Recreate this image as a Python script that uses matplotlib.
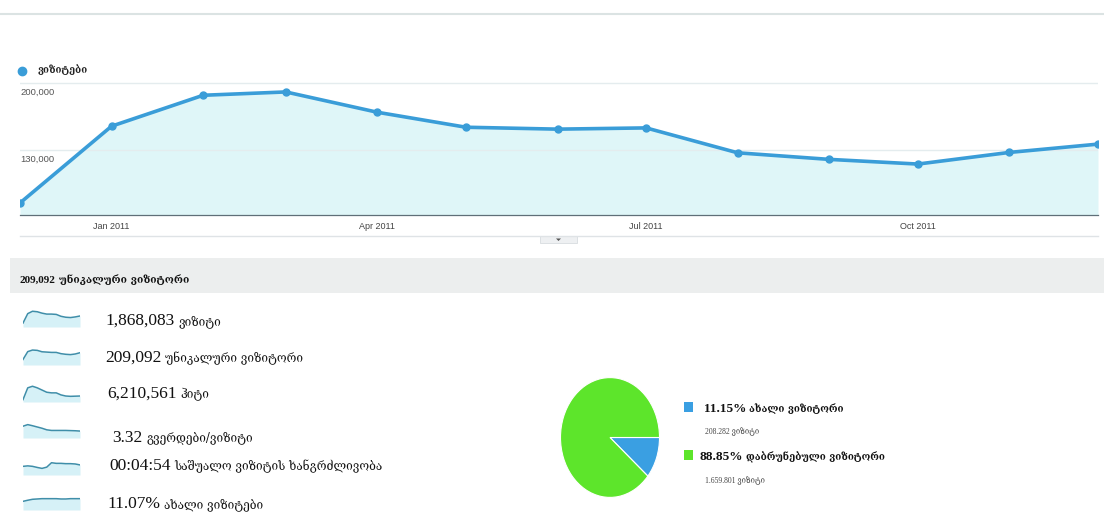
import numpy as np
import pandas as pd
import matplotlib
matplotlib.use("Agg")
import matplotlib.pyplot as plt
from matplotlib.patches import Rectangle, Polygon
from matplotlib.ticker import FixedLocator

W, H = 1104, 512

# monthly visits, Dec 2010 - Dec 2011
months = pd.date_range("2010-12-01", "2011-12-01", freq="MS")
visits = [74600, 155100, 187500, 191000, 169700, 154000, 152000,
          153300, 127200, 120300, 115400, 127600, 136300]
y_ticks = [130000, 200000]
x_tick_dates = pd.to_datetime(["2011-01-01", "2011-04-01", "2011-07-01", "2011-10-01"])
x_tick_labels = ["Jan 2011", "Apr 2011", "Jul 2011", "Oct 2011"]

series_label = "ვიზიტები"
summary_value = "209,092"
summary_desc = "უნიკალური ვიზიტორი"

metric_values = ["1,868,083", "209,092", "6,210,561", "3.32", "00:04:54", "11.07%"]
metric_descs = ["ვიზიტი", "უნიკალური ვიზიტორი", "ჰიტი", "გვერდები/ვიზიტი",
                "საშუალო ვიზიტის ხანგრძლივობა", "ახალი ვიზიტები"]
# small trend lines next to each metric (relative scale)
spark_visits = [0.25, 0.85, 1.0, 0.97, 0.88, 0.82, 0.82, 0.80, 0.68, 0.62, 0.60, 0.64, 0.70]
spark_unique = [0.35, 0.85, 0.95, 0.93, 0.84, 0.82, 0.80, 0.80, 0.72, 0.68, 0.66, 0.70, 0.78]
spark_hits = [0.15, 0.90, 1.0, 0.90, 0.76, 0.62, 0.58, 0.58, 0.45, 0.38, 0.36, 0.37, 0.38]
spark_pages = [0.75, 0.85, 0.78, 0.70, 0.62, 0.52, 0.48, 0.48, 0.48, 0.48, 0.47, 0.46, 0.44]
spark_duration = [0.55, 0.58, 0.55, 0.48, 0.42, 0.50, 0.78, 0.74, 0.74, 0.72, 0.72, 0.70, 0.64]
spark_new = [0.55, 0.62, 0.68, 0.70, 0.72, 0.72, 0.72, 0.72, 0.70, 0.70, 0.72, 0.72, 0.72]
sparks = [spark_visits, spark_unique, spark_hits, spark_pages, spark_duration, spark_new]

pie_values = [11.15, 88.85]
pie_descs = ["ახალი ვიზიტორი", "დაბრუნებული ვიზიტორი"]
pie_counts = ["208.282 ვიზიტი", "1.659.801 ვიზიტი"]

BLUE = "#3a9dd8"
FILL = "#dff6f8"
GREEN = "#5de52b"
PIE_BLUE = "#3a9fe2"
SPARK = "#3f8ea9"
SPARK_FILL = "#d6f1f7"

SERIF = ["Liberation Serif", "DejaVu Serif", "DejaVu Sans"]
GEO = ["DejaVu Serif Condensed", "DejaVu Serif", "DejaVu Sans"]
SANS = ["Liberation Sans", "DejaVu Sans"]


def box(x0, y0, x1, y1):
    """pixel box (top-left origin) -> figure fraction rect"""
    return [x0 / W, 1 - y1 / H, (x1 - x0) / W, (y1 - y0) / H]


def ftext(x, y, s, **kw):
    kw.setdefault("va", "center")
    return fig.text(x / W, 1 - y / H, s, **kw)


def pair_text(x, base, value, desc, vsize, dsize, weight="normal", gap=4):
    """number in Times-like face followed by the Georgian caption"""
    t = ftext(x, base, value, va="baseline", fontsize=vsize, weight=weight,
              color="#111111", family=SERIF)
    ext = t.get_window_extent(renderer=fig.canvas.get_renderer())
    x_end = ext.x1 / fig.dpi * 100
    ftext(x_end + gap, base, desc, va="baseline", fontsize=dsize, weight=weight,
          color="#111111", family=GEO)


fig = plt.figure(figsize=(W / 100, H / 100), dpi=100)
fig.patch.set_facecolor("white")

# page decorations
fig.add_artist(plt.Line2D([0, 1], [1 - 14 / H] * 2, color="#dbe3e3", lw=1.5))
fig.add_artist(plt.Line2D([20 / W, 1098 / W], [1 - 236 / H] * 2, color="#dfe3e6", lw=1.0))
fig.add_artist(Rectangle((540 / W, 1 - 243 / H), 37 / W, 7 / H, facecolor="#eef0f2",
                         edgecolor="#d8dcdf", lw=0.6))
fig.add_artist(Polygon([(556 / W, 1 - 238.5 / H), (561 / W, 1 - 238.5 / H), (558.5 / W, 1 - 241 / H)],
                       closed=True, color="#555555", lw=0))
fig.add_artist(Rectangle((10 / W, 1 - 293 / H), (W - 10) / W, 35 / H,
                         facecolor="#eceeee", edgecolor="none"))

# main trend chart
ax = fig.add_axes(box(20, 70, 1098, 215))
ax.fill_between(months, visits, 62000, color=FILL, lw=0)
ax.plot(months, visits, color=BLUE, lw=2.6, marker="o", markersize=5, zorder=3)
ax.set_xlim(months[0], months[-1])
ax.set_ylim(62000, 214000)
for v in y_ticks:
    ax.axhline(v, color="#e4ecee", lw=1.0, zorder=1)
    ax.text(0.0, v - 5000, f"{v:,}", transform=ax.get_yaxis_transform(),
            fontsize=6.8, color="#555555", va="top", ha="left", family=SANS)
ax.set_yticks([])
ax.xaxis.set_major_locator(FixedLocator(matplotlib.dates.date2num(x_tick_dates)))
ax.set_xticklabels(x_tick_labels, fontsize=6.5, color="#444444", family=SANS)
ax.tick_params(axis="x", length=0, pad=5)
for side in ["top", "left", "right"]:
    ax.spines[side].set_visible(False)
ax.spines["bottom"].set_color("#5f6f78")
ax.spines["bottom"].set_linewidth(0.9)
ax.set_facecolor("none")

# series legend
fig.add_artist(plt.Line2D([22 / W], [1 - 71 / H], marker="o", color=BLUE, markersize=6, lw=0))
ftext(38, 70, series_label, fontsize=7, weight="bold", color="#222222", family=GEO)

# summary band
pair_text(20, 283, summary_value, summary_desc, 8, 7.5, weight="bold", gap=3)

# metric rows with sparklines
spark_bottoms = [327, 365, 402, 438, 475, 510]
base_ys = [325, 362, 398, 442, 470, 508]
text_xs = [105, 105, 107, 112, 109, 107]
for vals, bot, by, tx, value, desc in zip(sparks, spark_bottoms, base_ys, text_xs,
                                          metric_values, metric_descs):
    sax = fig.add_axes(box(23, bot - 17, 80, bot))
    idx = np.arange(len(vals))
    sax.fill_between(idx, vals, 0, color=SPARK_FILL, lw=0)
    sax.plot(idx, vals, color=SPARK, lw=1.1)
    sax.set_xlim(0, len(vals) - 1)
    sax.set_ylim(0, 1.08)
    sax.axis("off")
    pair_text(tx, by, value, desc, 12.5, 8.6)

# new vs returning visitors
pax = fig.add_axes(box(560, 377, 660, 498))
pax.pie(pie_values, colors=[PIE_BLUE, GREEN], startangle=0, counterclock=False,
        wedgeprops=dict(edgecolor="white", linewidth=0.8))
pax.set_aspect("auto")
pax.set_xlim(-1.01, 1.01)
pax.set_ylim(-1.01, 1.01)

leg_ys = [412, 460]
count_ys = [432, 481]
leg_xs = [704, 700]
for color, pct, desc, count, ly, cy, lx in zip([PIE_BLUE, GREEN], pie_values, pie_descs,
                                               pie_counts, leg_ys, count_ys, leg_xs):
    fig.add_artist(Rectangle((684 / W, 1 - (ly - 0) / H), 9 / W, 10 / H,
                             facecolor=color, edgecolor="none"))
    pair_text(lx, ly, f"{pct:.2f}%", desc, 9.5, 7.1, weight="bold", gap=3)
    ftext(705, cy, count, fontsize=5.5, color="#444444", family=SERIF)

fig.savefig("out.png", dpi=100, facecolor="white")
